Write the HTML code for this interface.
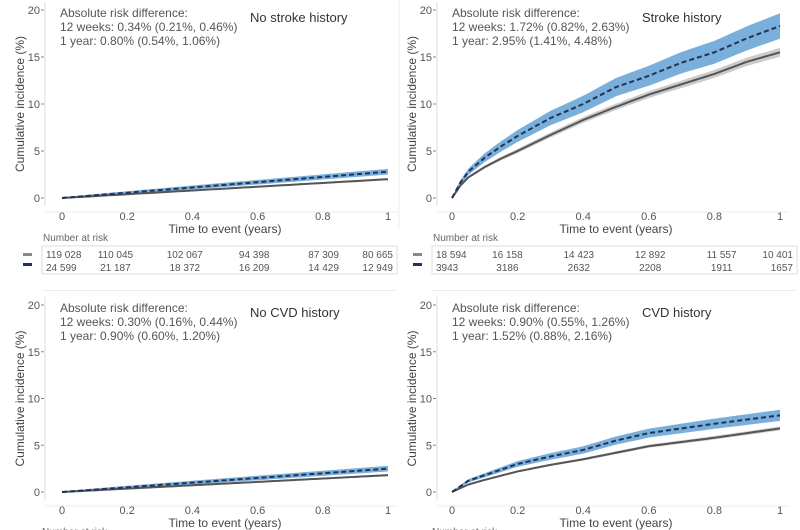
<!DOCTYPE html>
<html><head><meta charset="utf-8"><style>
html,body{margin:0;padding:0;background:#fff;width:800px;height:530px;overflow:hidden}
svg{display:block;font-family:"Liberation Sans",sans-serif}
</style></head><body>
<svg id="s" width="800" height="530" viewBox="0 0 800 530" xmlns="http://www.w3.org/2000/svg"></svg>
<script>
const s=document.getElementById('s');let h='';
function panel(x0,x1,y0,y20,axX,lines,title,blue,grey,bw){
  const X=t=>x0+(x1-x0)*t, Y=v=>y0-(y0-y20)*v/20;
  h+=`<line x1="${axX+5}" y1="${y20-8}" x2="${axX+5}" y2="${y0+8}" stroke="#ddd" stroke-width="1"/>`;
  h+=`<line x1="${axX+5}" y1="${y0+14}" x2="${x1+10}" y2="${y0+14}" stroke="#eee" stroke-width="1"/>`;
  [0,5,10,15,20].forEach(v=>{h+=`<text x="${axX}" y="${Y(v)+4}" font-size="11" fill="#555" text-anchor="end">${v}</text><line x1="${axX+1}" y1="${Y(v)}" x2="${axX+4}" y2="${Y(v)}" stroke="#888"/>`});
  [0,0.2,0.4,0.6,0.8,1].forEach(t=>{h+=`<text x="${X(t)}" y="${y0+22}" font-size="11" fill="#555" text-anchor="middle">${t}</text>`});
  h+=`<text x="${(x0+x1)/2}" y="${y0+35}" font-size="12" fill="#444" text-anchor="middle">Time to event (years)</text>`;
  h+=`<text transform="translate(${axX-16},${(y0+y20)/2}) rotate(-90)" font-size="12" fill="#444" text-anchor="middle">Cumulative incidence (%)</text>`;
  h+=`<text x="${axX+20}" y="${y20+7}" font-size="12" fill="#555">${lines[0]}</text>`;
  h+=`<text x="${axX+20}" y="${y20+21}" font-size="12" fill="#555">${lines[1]}</text>`;
  h+=`<text x="${axX+20}" y="${y20+35}" font-size="12" fill="#555">${lines[2]}</text>`;
  h+=`<text x="${axX+210}" y="${y20+12}" font-size="13" fill="#333">${title}</text>`;
  const N=80;let up=[],dn=[],bl=[],gl=[],gu=[],gd=[];
  for(let i=0;i<=N;i++){const t=i/N,b=blue(t),g=grey(t),w=bw*Math.sqrt(t)+0.05,gw=w*0.35;
    up.push(X(t)+','+Y(b+w));dn.unshift(X(t)+','+Y(b-w));bl.push(X(t)+','+Y(b));gl.push(X(t)+','+Y(g));gu.push(X(t)+','+Y(g+gw));gd.unshift(X(t)+','+Y(g-gw));}
  h+=`<polygon points="${gu.join(' ')} ${gd.join(' ')}" fill="#ccc"/>`;
  h+=`<polygon points="${up.join(' ')} ${dn.join(' ')}" fill="#7aaedb"/>`;
  h+=`<polyline points="${gl.join(' ')}" fill="none" stroke="#555" stroke-width="2"/>`;
  h+=`<polyline points="${bl.join(' ')}" fill="none" stroke="#1d3557" stroke-width="2" stroke-dasharray="5,3"/>`;
}
const interp=(pts)=>t=>{for(let i=1;i<pts.length;i++){if(t<=pts[i][0]){const a=pts[i-1],b=pts[i];return a[1]+(b[1]-a[1])*(t-a[0])/(b[0]-a[0]);}}return pts[pts.length-1][1];};
panel(62,388,198,10,40,["Absolute risk difference:","12 weeks: 0.34% (0.21%, 0.46%)","1 year: 0.80% (0.54%, 1.06%)"],"No stroke history",t=>2.8*t,t=>2*t,0.25);
panel(452,780,198,10,432,["Absolute risk difference:","12 weeks: 1.72% (0.82%, 2.63%)","1 year: 2.95% (1.41%, 4.48%)"],"Stroke history",
 interp([[0,0],[0.025,1.6],[0.05,2.8],[0.1,4.3],[0.15,5.5],[0.2,6.6],[0.3,8.5],[0.4,10],[0.5,11.8],[0.6,13],[0.7,14.4],[0.8,15.5],[0.9,17],[1,18.3]]),
 interp([[0,0],[0.025,1.3],[0.05,2.2],[0.1,3.3],[0.15,4.2],[0.2,5],[0.3,6.7],[0.4,8.3],[0.5,9.7],[0.6,11],[0.7,12.1],[0.8,13.2],[0.9,14.5],[1,15.5]]),1.3);
panel(62,388,492,305,40,["Absolute risk difference:","12 weeks: 0.30% (0.16%, 0.44%)","1 year: 0.90% (0.60%, 1.20%)"],"No CVD history",t=>2.5*t,t=>1.8*t,0.25);
panel(452,780,492,305,432,["Absolute risk difference:","12 weeks: 0.90% (0.55%, 1.26%)","1 year: 1.52% (0.88%, 2.16%)"],"CVD history",
 interp([[0,0],[0.05,1.2],[0.1,1.8],[0.2,3],[0.3,3.8],[0.4,4.5],[0.5,5.5],[0.6,6.3],[0.8,7.3],[1,8.2]]),
 interp([[0,0],[0.05,0.8],[0.1,1.3],[0.2,2.2],[0.3,2.9],[0.4,3.5],[0.5,4.2],[0.6,4.9],[0.8,5.8],[1,6.8]]),0.55);
function table(x,xe,r1,r2){
  h+=`<text x="${x+1}" y="241" font-size="10" fill="#666">Number at risk</text>`;
  h+=`<rect x="${x}" y="246" width="${xe-x}" height="28" fill="none" stroke="#ddd"/>`;
  h+=`<rect x="${x-19}" y="253" width="9" height="3" fill="#888"/><rect x="${x-19}" y="263" width="9" height="3" fill="#1d3557"/>`;
  for(let i=0;i<6;i++){const cx=x+4+i*(xe-x-8)/5;const a=i==0?'start':i==5?'end':'middle';
    h+=`<text x="${cx}" y="258" font-size="10" fill="#555" text-anchor="${a}">${r1[i]}</text><text x="${cx}" y="271" font-size="10" fill="#555" text-anchor="${a}">${r2[i]}</text>`;}
}
table(42,397,["119 028","110 045","102 067","94 398","87 309","80 665"],["24 599","21 187","18 372","16 209","14 429","12 949"]);
table(432,797,["18 594","16 158","14 423","12 892","11 557","10 401"],["3943","3186","2632","2208","1911","1657"]);
h+=`<rect x="42" y="290" width="355" height="1" fill="#eee"/><rect x="432" y="290" width="365" height="1" fill="#eee"/>`;
h+=`<text x="42" y="535" font-size="10" fill="#666">Number at risk</text><text x="432" y="535" font-size="10" fill="#666">Number at risk</text>`;
h+=`<line x1="399" y1="0" x2="399" y2="230" stroke="#eee"/>`;
s.innerHTML=h;
</script>
</body></html>
